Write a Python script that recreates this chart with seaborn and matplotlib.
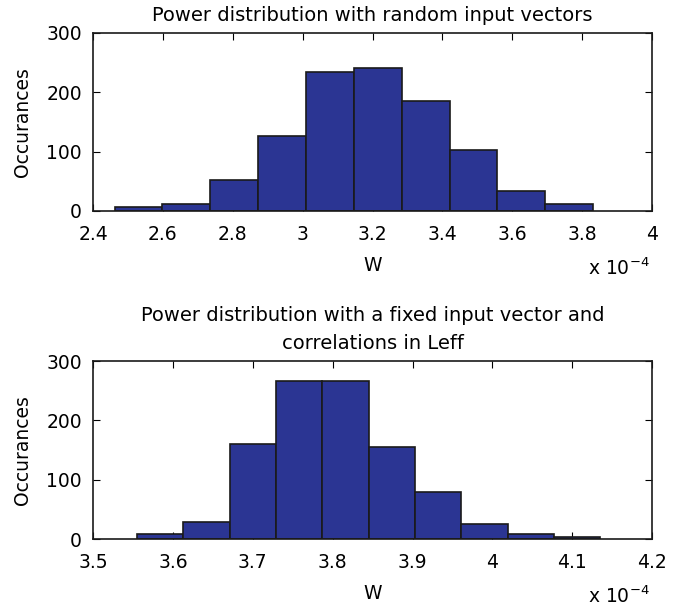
import numpy as np
import pandas as pd
import seaborn as sns
import matplotlib.pyplot as plt

# bin centres (x 1e-4 W) and counts
top_centers = [2.530, 2.667, 2.804, 2.941, 3.078, 3.215, 3.352, 3.489, 3.626, 3.763]
top_counts = [6, 11, 52, 127, 234, 241, 185, 102, 33, 11]
bot_centers = [3.584, 3.642, 3.700, 3.758, 3.816, 3.874, 3.932, 3.990, 4.048, 4.106]
bot_counts = [8, 28, 160, 266, 266, 155, 80, 25, 8, 4]

top_xticks = [2.4, 2.6, 2.8, 3.0, 3.2, 3.4, 3.6, 3.8, 4.0]
bot_xticks = [3.5, 3.6, 3.7, 3.8, 3.9, 4.0, 4.1, 4.2]
yticks = [0, 100, 200, 300]

titles = ["Power distribution with random input vectors",
          "Power distribution with a fixed input vector and\ncorrelations in Leff"]

sns.set_style("ticks")
plt.rcParams['font.family'] = ['DejaVu Sans']
plt.rcParams['font.size'] = 13.5
plt.rcParams['text.color'] = 'black'
plt.rcParams['xtick.color'] = 'black'
plt.rcParams['ytick.color'] = 'black'
plt.rcParams['axes.labelcolor'] = 'black'

fig = plt.figure(figsize=(6.86, 6.11), dpi=100)
ax1 = fig.add_axes([0.1356, 0.6547, 0.815, 0.2913])
ax2 = fig.add_axes([0.1356, 0.1178, 0.815, 0.2913])

bar_color = "#2b3593"


def draw(ax, centers, counts, xticks, title):
    df = pd.DataFrame({"W": centers, "n": counts})
    w = centers[1] - centers[0]
    lo, hi = centers[0] - w / 2, centers[-1] + w / 2
    sns.histplot(data=df, x="W", weights="n", bins=len(centers), binrange=(lo, hi),
                 ax=ax, color=bar_color, alpha=1, edgecolor="#1a1a1a", linewidth=1.2)
    ax.set_xlim(xticks[0], xticks[-1])
    ax.set_ylim(0, 300)
    ax.set_xticks(xticks)
    ax.set_xticklabels(["%g" % t for t in xticks])
    ax.set_yticks(yticks)
    ax.tick_params(axis="x", direction="in", top=True, length=5, width=0.8, pad=10)
    ax.tick_params(axis="y", direction="in", right=True, length=5, width=0.8, pad=8)
    for s in ax.spines.values():
        s.set_visible(True)
        s.set_linewidth(1.2)
        s.set_color("#1a1a1a")
    ax.set_xlabel("W")
    ax.xaxis.set_label_coords(0.5, -0.255)
    ax.set_ylabel("Occurances")
    ax.yaxis.set_label_coords(-0.109, 0.5)
    ax.set_title(title, fontsize=14, pad=8.6, linespacing=1.6)
    ax.text(0.996, -0.36, r"x 10$^{-4}$", transform=ax.transAxes,
            ha="right", va="baseline", fontsize=13.5)


draw(ax1, top_centers, top_counts, top_xticks, titles[0])
draw(ax2, bot_centers, bot_counts, bot_xticks, titles[1])

fig.savefig("out.png", dpi=100)
